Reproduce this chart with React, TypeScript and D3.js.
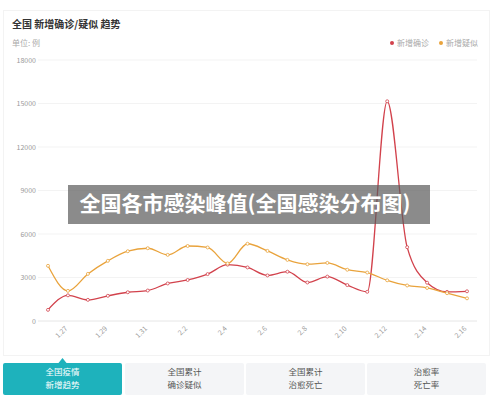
import React from "react";
import * as d3 from "d3";

const dates = ["1.26","1.27","1.28","1.29","1.30","1.31","2.1","2.2","2.3","2.4","2.5","2.6","2.7","2.8","2.9","2.10","2.11","2.12","2.13","2.14","2.15","2.16"];
const confirmed = [769,1771,1459,1737,1982,2102,2590,2829,3235,3887,3694,3143,3399,2656,3062,2478,2015,15152,5090,2641,2009,2048];
const suspected = [3806,2077,3248,4148,4812,5019,4562,5173,5072,3971,5328,4833,4214,3916,4008,3536,3342,2807,2450,2277,1918,1563];
const yTicks = [0,3000,6000,9000,12000,15000,18000];
const xTickLabels = ["1.27","1.29","1.31","2.2","2.4","2.6","2.8","2.10","2.12","2.14","2.16"];
const seriesNames = ["新增确诊","新增疑似"];
const tabs = [["全国疫情","新增趋势"],["全国累计","确诊疑似"],["全国累计","治愈死亡"],["治愈率","死亡率"]];
const title = "全国 新增确诊/疑似 趋势";
const unit = "单位: 例";
const watermark = "全国各市感染峰值(全国感染分布图)";

const FONT = "'Noto Sans CJK SC', 'Noto Sans', sans-serif";
const RED = "#d2424c";
const ORANGE = "#e9a33c";

export default function App() {
  const W = 500, H = 409;
  const x = d3.scalePoint<string>().domain(dates).range([48, 467]);
  const y = d3.scaleLinear().domain([0, 18000]).range([321, 60]);
  const line = d3.line<number>().x((_, i) => x(dates[i])!).y(d => y(d)).curve(d3.curveMonotoneX);
  const series = [
    { name: seriesNames[0], color: RED, data: confirmed },
    { name: seriesNames[1], color: ORANGE, data: suspected },
  ];
  const tabX = [3, 125, 246, 367];
  const tabW = 119;
  return (
    <svg width={W} height={H} style={{ position: "absolute", left: 0, top: 0, fontFamily: FONT }}>
      <rect x={0} y={0} width={W} height={H} fill="#fff" />
      <rect x={3.5} y={10.5} width={486} height={345} fill="#fff" stroke="#f3f3f3" />
      <text x={12} y={28} fontSize={10} fontWeight="bold" fill="#333">{title}</text>
      <text x={12} y={46} fontSize={8} fill="#aaa">{unit}</text>
      {/* legend */}
      <circle cx={392} cy={43} r={2} fill={RED} />
      <text x={397} y={46} fontSize={8} fill="#aaa">{seriesNames[0]}</text>
      <circle cx={441} cy={43} r={2} fill={ORANGE} />
      <text x={446} y={46} fontSize={8} fill="#aaa">{seriesNames[1]}</text>
      {/* grid + y labels */}
      {yTicks.map(t => (
        <g key={t}>
          <line x1={38} x2={477} y1={y(t)} y2={y(t)} stroke={t === 0 ? "#e6e6e6" : "#f3f3f3"} strokeWidth={1} />
          <text x={36} y={y(t) + 2.5} fontSize={7} fill="#999" textAnchor="end">{t}</text>
        </g>
      ))}
      {/* x labels */}
      {xTickLabels.map(l => {
        const px = x(l)!;
        return (
          <text key={l} transform={`translate(${px},${329}) rotate(-45)`} fontSize={7} fill="#999" textAnchor="end">{l}</text>
        );
      })}
      {/* lines */}
      {series.map(s => (
        <g key={s.name}>
          <path d={line(s.data)!} fill="none" stroke={s.color} strokeWidth={1.3} />
          {s.data.map((v, i) => (
            <circle key={i} cx={x(dates[i])!} cy={y(v)} r={1.5} fill="#fff" stroke={s.color} strokeWidth={0.8} />
          ))}
        </g>
      ))}
      {/* watermark */}
      <rect x={68} y={185} width={362} height={39} fill="rgba(90,90,90,0.7)" />
      <text x={245} y={211} fontSize={21} fontWeight="bold" fill="#fff" textAnchor="middle">{watermark}</text>
      {/* tabs */}
      {tabs.map((t, i) => {
        const active = i === 0;
        const cx = tabX[i] + tabW / 2;
        return (
          <g key={i}>
            <rect x={tabX[i]} y={363} width={tabW} height={32} rx={2} fill={active ? "#1eb2bc" : "#f4f5f7"} />
            {active && <path d={`M${cx - 4},363 L${cx},358 L${cx + 4},363 Z`} fill="#1eb2bc" />}
            <text x={cx} y={375} fontSize={8.5} fill={active ? "#fff" : "#555"} textAnchor="middle">{t[0]}</text>
            <text x={cx} y={388} fontSize={8.5} fill={active ? "#fff" : "#555"} textAnchor="middle">{t[1]}</text>
          </g>
        );
      })}
    </svg>
  );
}
